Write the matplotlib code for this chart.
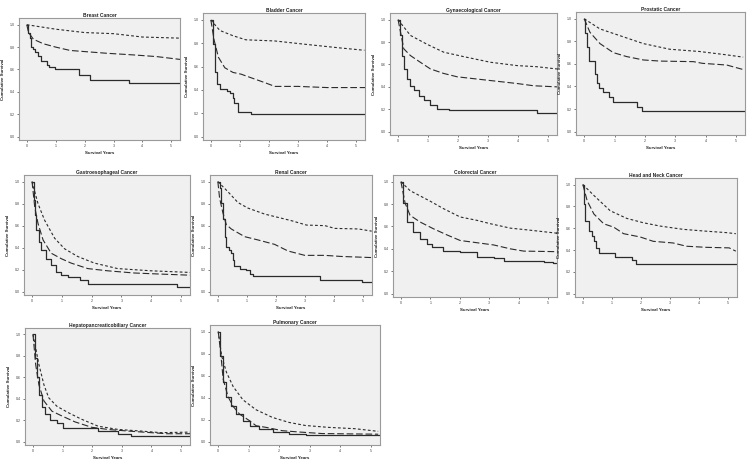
import matplotlib
matplotlib.use('Agg')
import matplotlib.pyplot as plt

plt.rcParams.update({
    'font.family': ['Liberation Sans', 'DejaVu Sans'],
    'axes.edgecolor': '#9a9a9a',
    'axes.linewidth': 0.8,
})

LINE = '#2b2b2b'
PANEL_BG = '#f0f0f0'
T_END = 5.3

titles = ['Breast Cancer', 'Bladder Cancer', 'Gynaecological Cancer', 'Prostatic Cancer',
          'Gastroesophageal Cancer', 'Renal Cancer', 'Colorectal Cancer', 'Head and Neck Cancer',
          'Hepatopancreaticobiliary Cancer', 'Pulmonary Cancer']

# solid curve (lowest group) - step data
solid_t = [
    [0, 0.05, 0.1, 0.15, 0.2, 0.3, 0.4, 0.5, 0.69, 0.78, 0.98, 1.8, 2.2, 3.54],
    [0, 0.08, 0.15, 0.22, 0.32, 0.55, 0.65, 0.75, 0.8, 0.92, 1.38],
    [0, 0.08, 0.13, 0.19, 0.3, 0.41, 0.52, 0.69, 0.86, 1.08, 1.3, 1.69, 4.63],
    [0, 0.03, 0.08, 0.16, 0.35, 0.41, 0.49, 0.63, 0.82, 0.96, 1.73, 1.89],
    [0, 0.06, 0.09, 0.14, 0.22, 0.31, 0.48, 0.64, 0.81, 0.98, 1.2, 1.6, 1.87, 4.87],
    [0, 0.06, 0.11, 0.17, 0.23, 0.29, 0.4, 0.46, 0.52, 0.57, 0.75, 0.98, 1.09, 1.2, 3.5, 4.94],
    [0, 0.08, 0.19, 0.42, 0.65, 0.88, 1.05, 1.44, 2.01, 2.58, 3.15, 3.5, 4.85, 5.15],
    [0, 0.03, 0.09, 0.2, 0.32, 0.38, 0.45, 0.55, 1.11, 1.68, 1.82],
    [0, 0.06, 0.12, 0.2, 0.29, 0.42, 0.59, 0.81, 1.0, 2.2, 2.87, 3.31],
    [0, 0.05, 0.16, 0.27, 0.43, 0.59, 0.81, 1.03, 1.35, 1.78, 2.32, 2.86],
]
solid_s = [
    [1.0, 0.93, 0.88, 0.80, 0.78, 0.76, 0.72, 0.68, 0.64, 0.625, 0.60, 0.555, 0.505, 0.48],
    [1.0, 0.79, 0.55, 0.45, 0.41, 0.39, 0.37, 0.33, 0.29, 0.21, 0.19],
    [1.0, 0.86, 0.68, 0.56, 0.47, 0.41, 0.375, 0.32, 0.28, 0.24, 0.205, 0.19, 0.165],
    [1.0, 0.87, 0.75, 0.63, 0.51, 0.43, 0.39, 0.35, 0.31, 0.26, 0.22, 0.18],
    [1.0, 0.83, 0.70, 0.56, 0.45, 0.38, 0.30, 0.24, 0.18, 0.15, 0.135, 0.11, 0.07, 0.045],
    [1.0, 0.94, 0.81, 0.66, 0.50, 0.41, 0.38, 0.35, 0.29, 0.23, 0.21, 0.195, 0.165, 0.14, 0.11, 0.085],
    [1.0, 0.81, 0.64, 0.55, 0.49, 0.44, 0.415, 0.385, 0.37, 0.33, 0.315, 0.29, 0.28, 0.27],
    [1.0, 0.82, 0.67, 0.57, 0.53, 0.48, 0.42, 0.37, 0.34, 0.31, 0.27],
    [1.0, 0.78, 0.60, 0.44, 0.32, 0.255, 0.20, 0.175, 0.13, 0.10, 0.075, 0.055],
    [1.0, 0.78, 0.54, 0.41, 0.32, 0.25, 0.19, 0.145, 0.118, 0.088, 0.074, 0.059],
]

# long-dash curve (middle group)
mid_t = [
    [0, 0.06, 0.23, 0.57, 1.0, 1.5, 2.0, 2.76, 3.7, 4.5, 5.3],
    [0, 0.11, 0.26, 0.48, 0.76, 1.04, 1.43, 1.88, 2.2, 3.0, 4.0, 5.3],
    [0, 0.08, 0.19, 0.41, 0.74, 1.08, 1.52, 1.97, 2.63, 3.3, 3.97, 4.52, 5.3],
    [0, 0.19, 0.52, 0.96, 1.4, 1.95, 2.5, 3.6, 3.9, 4.7, 5.24],
    [0, 0.09, 0.2, 0.37, 0.64, 0.98, 1.31, 1.87, 2.53, 3.42, 4.31, 5.3],
    [0, 0.06, 0.17, 0.29, 0.46, 0.92, 1.38, 1.95, 2.41, 2.99, 3.68, 4.25, 5.29],
    [0, 0.14, 0.31, 0.65, 1.1, 1.56, 2.01, 2.58, 3.15, 3.72, 4.17, 5.3],
    [0, 0.15, 0.38, 0.72, 1.06, 1.4, 1.97, 2.42, 3.1, 3.56, 4.24, 5.03, 5.26],
    [0, 0.09, 0.2, 0.37, 0.64, 0.98, 1.42, 1.98, 2.53, 3.2, 3.98, 4.53, 5.3],
    [0, 0.08, 0.16, 0.32, 0.49, 0.7, 1.03, 1.24, 1.57, 2.1, 2.65, 3.4, 5.24],
]
mid_s = [
    [1.0, 0.93, 0.87, 0.83, 0.80, 0.77, 0.76, 0.745, 0.73, 0.715, 0.69],
    [1.0, 0.83, 0.68, 0.59, 0.55, 0.535, 0.50, 0.46, 0.43, 0.43, 0.42, 0.42],
    [1.0, 0.89, 0.74, 0.68, 0.62, 0.56, 0.52, 0.49, 0.47, 0.45, 0.43, 0.41, 0.40],
    [1.0, 0.88, 0.78, 0.70, 0.665, 0.635, 0.625, 0.62, 0.605, 0.59, 0.55],
    [1.0, 0.77, 0.62, 0.47, 0.35, 0.30, 0.26, 0.21, 0.19, 0.17, 0.16, 0.15],
    [1.0, 0.85, 0.72, 0.61, 0.57, 0.50, 0.47, 0.43, 0.37, 0.33, 0.33, 0.32, 0.31],
    [1.0, 0.81, 0.70, 0.64, 0.58, 0.525, 0.475, 0.455, 0.435, 0.40, 0.38, 0.375],
    [1.0, 0.85, 0.73, 0.64, 0.61, 0.55, 0.52, 0.48, 0.465, 0.435, 0.425, 0.42, 0.39],
    [1.0, 0.72, 0.53, 0.38, 0.285, 0.24, 0.185, 0.135, 0.115, 0.10, 0.085, 0.075, 0.075],
    [1.0, 0.81, 0.57, 0.41, 0.32, 0.25, 0.19, 0.145, 0.13, 0.10, 0.088, 0.074, 0.068],
]

# short-dash curve (best group)
top_t = [
    [0, 1.0, 2.0, 3.0, 4.0, 5.3],
    [0, 0.31, 0.76, 1.2, 2.2, 3.3, 4.45, 5.28],
    [0, 0.41, 0.97, 1.52, 2.19, 3.08, 3.97, 4.63, 5.3],
    [0, 0.52, 1.18, 1.95, 2.82, 3.8, 4.7, 5.24],
    [0, 0.2, 0.42, 0.76, 1.09, 1.53, 2.09, 2.87, 3.98, 5.3],
    [0, 0.34, 0.69, 1.03, 1.61, 2.07, 2.53, 3.05, 3.68, 4.02, 4.83, 5.29],
    [0, 0.31, 1.0, 1.44, 2.01, 2.58, 3.03, 3.72, 4.28, 5.3],
    [0, 0.38, 0.94, 1.51, 2.08, 2.65, 3.44, 4.13, 4.92, 5.26],
    [0, 0.2, 0.37, 0.53, 0.81, 1.2, 1.64, 2.2, 2.87, 3.64, 4.31, 5.3],
    [0, 0.11, 0.27, 0.49, 0.81, 1.24, 1.78, 2.32, 2.86, 3.62, 4.48, 5.24],
]
top_s = [
    [1.0, 0.96, 0.93, 0.92, 0.89, 0.88],
    [1.0, 0.91, 0.865, 0.83, 0.82, 0.79, 0.76, 0.74],
    [1.0, 0.86, 0.78, 0.71, 0.67, 0.62, 0.59, 0.58, 0.56],
    [1.0, 0.91, 0.85, 0.78, 0.73, 0.71, 0.68, 0.66],
    [1.0, 0.80, 0.65, 0.485, 0.39, 0.32, 0.26, 0.21, 0.19, 0.175],
    [1.0, 0.91, 0.81, 0.76, 0.705, 0.675, 0.645, 0.605, 0.60, 0.575, 0.57, 0.55],
    [1.0, 0.92, 0.825, 0.76, 0.685, 0.655, 0.625, 0.585, 0.57, 0.54],
    [1.0, 0.90, 0.76, 0.69, 0.65, 0.62, 0.59, 0.575, 0.56, 0.55],
    [1.0, 0.72, 0.53, 0.41, 0.33, 0.27, 0.21, 0.145, 0.115, 0.10, 0.085, 0.09],
    [1.0, 0.78, 0.63, 0.50, 0.38, 0.29, 0.22, 0.175, 0.147, 0.13, 0.118, 0.094],
]

# panel boxes in pixels: left, top, right, bottom
boxes = [
    (19, 18, 180, 140), (203, 13, 365, 140), (390, 13, 557, 135), (576, 12, 745, 135),
    (24, 175, 190, 295), (210, 175, 372, 295), (393, 175, 557, 297), (575, 178, 737, 297),
    (25, 328, 190, 445), (210, 325, 380, 445),
]

W, H = 750, 476
fig = plt.figure(figsize=(W / 100, H / 100), dpi=100, facecolor='white')

for i, title in enumerate(titles):
    l, t, r, b = boxes[i]
    ax = fig.add_axes([l / W, 1 - b / H, (r - l) / W, (b - t) / H], facecolor=PANEL_BG)

    st = solid_t[i] + [T_END]
    ss = solid_s[i] + [solid_s[i][-1]]
    ax.step(st, ss, where='post', color=LINE, lw=0.9)
    ax.plot(mid_t[i], mid_s[i], color=LINE, lw=0.8, dashes=(6, 2.5))
    ax.plot(top_t[i], top_s[i], color=LINE, lw=0.8, dashes=(2.5, 2))

    ax.set_xlim(-0.27, T_END)
    ax.set_ylim(-0.03, 1.06)
    ax.set_xticks(range(6))
    ax.set_yticks([0, 0.2, 0.4, 0.6, 0.8, 1.0])
    ax.set_yticklabels(['0.0', '0.2', '0.4', '0.6', '0.8', '1.0'])
    ax.tick_params(labelsize=2.6, length=1.5, width=0.5, pad=1.2, colors='#444444')
    ax.set_title(title, fontsize=3.5, fontweight='bold', pad=1.0, color='#222222')
    ax.set_xlabel('Survival Years', fontsize=3.2, fontweight='bold', labelpad=2.5, color='#222222')
    ax.set_ylabel('Cumulative Survival', fontsize=3.2, fontweight='bold', labelpad=3.5, color='#222222')

fig.savefig('out.png', dpi=100, facecolor='white')
